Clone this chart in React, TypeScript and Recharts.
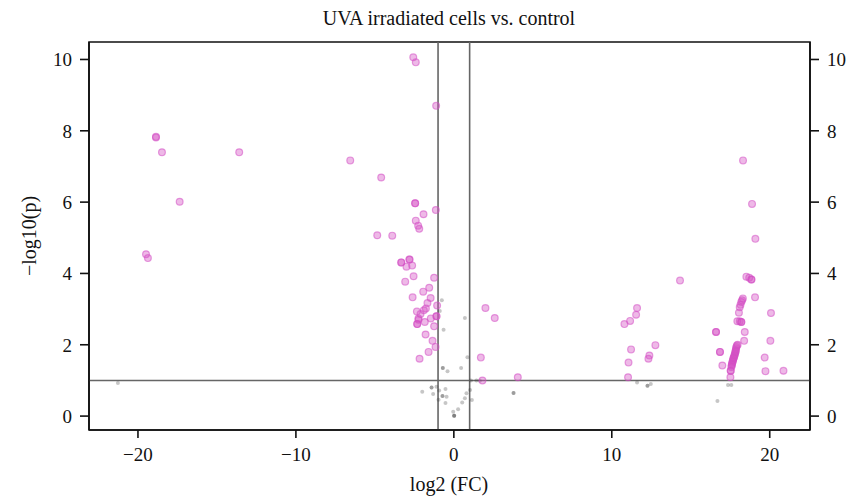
import React from 'react';
import {
  ScatterChart, Scatter, XAxis, YAxis, ReferenceLine, ReferenceArea,
} from 'recharts';

// significant genes (pink)
const sigFC = [
  -18.86, -18.86, -18.48, -13.59, -17.36, -6.56, -4.6, -19.49, -19.37,
  -2.57, -2.41, -1.12, -2.45, -2.45, -1.14, -1.92, -2.41, -2.26, -2.19, -4.85, -3.9,
  -3.33, -3.33, -2.81, -2.81, -3.0, -2.64, -3.08, -2.55, -1.25, -1.56, -1.94, -2.61,
  -1.47, -1.67, -1.06, -1.77, -2.34, -1.9, -2.11, -1.46, -1.1, -1.1, -2.24, -2.24,
  -1.84, -2.32, -2.32, -1.25, -1.79, -1.35, -1.16, -1.6, -2.17,
  2.0, 2.59, 1.71, 1.81, 4.05,
  18.31, 18.88, 19.09, 14.32, 18.52, 18.7, 18.84, 18.84, 19.07, 18.3, 18.25, 18.2,
  18.15, 18.1, 18.05, 20.08, 17.95, 18.1, 18.2, 18.2,
  10.8, 11.16, 11.54, 11.6, 16.6, 16.6, 18.42, 18.38, 20.04, 12.76, 11.22, 16.85, 16.85,
  12.38, 12.32, 11.06, 19.68, 17.0, 19.73, 20.87, 11.03,
  17.51, 17.53, 17.53, 17.57, 17.6, 17.62, 17.65, 17.68, 17.7, 17.74, 17.77, 17.81,
  17.83, 17.85, 17.87, 17.89, 17.92, 17.97, 17.6, 17.66, 17.72, 17.78, 17.84,
];
const sigP = [
  7.81, 7.83, 7.4, 7.4, 6.01, 7.17, 6.69, 4.54, 4.43,
  10.06, 9.92, 8.7, 5.97, 5.97, 5.78, 5.66, 5.48, 5.34, 5.25, 5.07, 5.06,
  4.31, 4.31, 4.39, 4.39, 4.19, 4.22, 3.77, 3.92, 3.88, 3.6, 3.49, 3.33,
  3.31, 3.17, 3.1, 3.02, 2.93, 2.97, 2.86, 2.74, 2.8, 2.8, 2.74, 2.7,
  2.64, 2.58, 2.58, 2.52, 2.29, 2.11, 1.94, 1.8, 1.61,
  3.03, 2.75, 1.64, 1.0, 1.09,
  7.17, 5.95, 4.97, 3.8, 3.91, 3.88, 3.83, 3.83, 3.33, 3.3, 3.25, 3.2,
  3.12, 3.05, 2.9, 2.89, 2.66, 2.66, 2.64, 2.64,
  2.58, 2.67, 2.84, 3.03, 2.36, 2.36, 2.36, 2.11, 2.11, 1.99, 1.87, 1.8, 1.8,
  1.7, 1.61, 1.5, 1.64, 1.42, 1.26, 1.27, 1.09,
  1.09, 1.27, 1.27, 1.38, 1.45, 1.48, 1.52, 1.57, 1.62, 1.66, 1.7, 1.76,
  1.8, 1.85, 1.9, 1.94, 1.98, 2.0, 1.42, 1.55, 1.63, 1.72, 1.82,
];

// non-significant genes (grey)
const nsFC = [
  -21.27, -0.76, -0.89, 0.7, -0.65, 0.86, -0.7, -0.7, -0.4, 0.46, 1.08, 1.65, 1.43,
  -1.41, -1.41, -1.1, -2.0, -1.31, -0.93, -0.53, -0.72, -0.72, -0.46, -0.97, -0.53,
  0.8, 0.7, 0.53, 1.14, 1.03, -0.04, 0.27, 0.02, 0.02, 0.02, 3.78, 3.78,
  11.6, 12.26, 12.26, 12.47, 17.36, 17.57, 16.69,
];
const nsP = [
  0.93, 3.25, 2.95, 2.75, 2.42, 1.65, 1.35, 1.35, 1.26, 1.35, 1.0, 0.99, 1.0,
  0.8, 0.8, 0.82, 0.68, 0.62, 0.72, 0.76, 0.56, 0.56, 0.54, 0.46, 0.37,
  0.64, 0.5, 0.38, 0.45, 0.73, 0.12, 0.19, 0.01, 0.01, 0.01, 0.65, 0.65,
  0.94, 0.85, 0.85, 0.9, 0.87, 0.87, 0.42,
];

const xTicks = [-20, -10, 0, 10, 20];
const yTicks = [0, 2, 4, 6, 8, 10];

const sigData = sigFC.map((x, i) => ({ x, y: sigP[i] }));
const nsData = nsFC.map((x, i) => ({ x, y: nsP[i] }));

const X_DOMAIN: [number, number] = [-23.1, 22.55];
const Y_DOMAIN: [number, number] = [-0.39, 10.49];
const FONT = '"Liberation Serif", "DejaVu Serif", serif';

const fmt = (v: number) => (v < 0 ? '\u2212' + Math.abs(v) : String(v));

const PinkDot = (p: any) => (
  <circle cx={p.cx} cy={p.cy} r={3.4} fill="#d44fc4" fillOpacity={0.4}
    stroke="#d44fc4" strokeOpacity={0.55} strokeWidth={1.2} />
);
const GreyDot = (p: any) => (
  <circle cx={p.cx} cy={p.cy} r={2} fill="#333" fillOpacity={0.28} />
);

const tickStyle = { fontSize: 19, fill: '#111', fontFamily: FONT };
const axisLine = { stroke: '#111', strokeWidth: 1.6 };

export default function App() {
  return (
    <div style={{ position: 'absolute', left: 0, top: 0, background: '#fff' }}>
      <ScatterChart width={853} height={496} margin={{ top: 42, right: 0, bottom: 0, left: 0 }}>
        <XAxis type="number" dataKey="x" domain={X_DOMAIN} ticks={xTicks} allowDataOverflow
          tickFormatter={fmt} height={66} tick={tickStyle} tickSize={8} tickMargin={10}
          axisLine={axisLine} tickLine={axisLine} />
        <YAxis yAxisId="l" type="number" dataKey="y" domain={Y_DOMAIN} ticks={yTicks} allowDataOverflow
          width={89} tick={tickStyle} tickSize={9} tickMargin={8}
          axisLine={axisLine} tickLine={axisLine} />
        <YAxis yAxisId="r" orientation="right" type="number" dataKey="y" domain={Y_DOMAIN} ticks={yTicks} allowDataOverflow
          width={43} tick={tickStyle} tickSize={9} tickMargin={8}
          axisLine={axisLine} tickLine={axisLine} />
        <ReferenceArea yAxisId="l" x1={X_DOMAIN[0]} x2={X_DOMAIN[1]} y1={Y_DOMAIN[0]} y2={Y_DOMAIN[1]}
          fill="none" stroke="#111" strokeWidth={1.6} ifOverflow="visible" />
        <ReferenceLine yAxisId="l" x={-1} stroke="#666" strokeWidth={1.6} />
        <ReferenceLine yAxisId="l" x={1} stroke="#666" strokeWidth={1.6} />
        <ReferenceLine yAxisId="l" y={1} stroke="#666" strokeWidth={1.6} />
        <Scatter yAxisId="l" data={nsData} shape={GreyDot} isAnimationActive={false} />
        <Scatter yAxisId="l" data={sigData} shape={PinkDot} isAnimationActive={false} />
        <Scatter yAxisId="r" data={[]} isAnimationActive={false} />
        <text x={449} y={25} textAnchor="middle" fontSize={20} fontFamily={FONT} fill="#111">
          UVA irradiated cells vs. control
        </text>
        <text x={449} y={491} textAnchor="middle" fontSize={20} fontFamily={FONT} fill="#111">
          log2 (FC)
        </text>
        <text x={36} y={236} textAnchor="middle" fontSize={20} fontFamily={FONT} fill="#111"
          transform="rotate(-90 36 236)">
          {'\u2212log10(p)'}
        </text>
      </ScatterChart>
    </div>
  );
}
